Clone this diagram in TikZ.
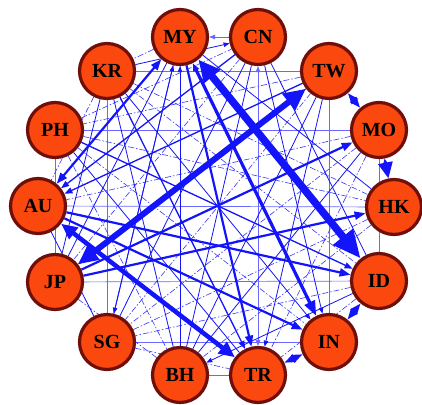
\documentclass[tikz,border=0pt]{standalone}
\usepackage{fontspec}
\setmainfont{Liberation Serif}
\usetikzlibrary{arrows.meta,backgrounds}
\definecolor{nodefill}{RGB}{250,72,14}
\definecolor{nodeborder}{RGB}{112,14,10}
\definecolor{lblue}{RGB}{105,105,255}
\definecolor{eblue}{RGB}{20,20,250}
\tikzset{
  cty/.style={circle, draw=nodeborder, fill=nodefill, line width=3.2pt, minimum size=55pt, inner sep=0pt,
    font=\fontsize{20}{20}\selectfont\bfseries},
  lite/.style={draw=lblue, line width=0.7pt},
  dd/.style={draw=eblue!85, line width=0.6pt, dash pattern=on 6pt off 2pt on 1.5pt off 2pt},
  thn/.style={draw=eblue, line width=0.8pt},
  ta/.style={thn, -{Triangle[length=6pt,width=4.5pt]}},
  mone/.style={draw=eblue, line width=1.3pt, -{Triangle[length=8pt,width=6pt]}},
  mtwo/.style={draw=eblue, line width=2.2pt, -{Triangle[length=11pt,width=8pt]}},
  mtwob/.style={draw=eblue, line width=2.2pt, {Triangle[length=11pt,width=8pt]}-{Triangle[length=11pt,width=8pt]}},
  hthree/.style={draw=eblue, line width=3.2pt, {Triangle[length=8pt,width=6pt]}-{Triangle[length=15pt,width=11pt]}},
  hfour/.style={draw=eblue, line width=4.5pt, {Triangle[length=16pt,width=14pt]}-{Triangle[length=16pt,width=14pt]}},
  hsix/.style={draw=eblue, line width=6pt, {Triangle[length=20pt,width=18pt]}-{Triangle[length=22pt,width=20pt]}},
  hseven/.style={draw=eblue, line width=7.5pt, {Triangle[length=22pt,width=20pt]}-{Triangle[length=28pt,width=24pt]}},
}
\begin{document}
\begin{tikzpicture}[x=1pt,y=-1pt]
\useasboundingbox (0,0) rectangle (422,404);
\node[cty] (MY) at (180,37) {MY};
\node[cty] (CN) at (258,37) {CN};
\node[cty] (TW) at (329,71) {TW};
\node[cty] (MO) at (379,130) {MO};
\node[cty] (HK) at (394,207) {HK};
\node[cty] (ID) at (379,281) {ID};
\node[cty] (IN) at (329,342) {IN};
\node[cty] (TR) at (258,375) {TR};
\node[cty] (BH) at (180,375) {BH};
\node[cty] (SG) at (107,342) {SG};
\node[cty] (JP) at (55,282) {JP};
\node[cty] (AU) at (38,206) {AU};
\node[cty] (PH) at (55,130) {PH};
\node[cty] (KR) at (107,71) {KR};
\begin{scope}[on background layer]
\fill[white] (0,0) rectangle (422,404);
% light horizontal / vertical lattice
\draw[lite] (MY) -- (BH);
\draw[lite] (KR) -- (SG);
\draw[lite] (PH) -- (JP);
\draw[lite] (TW) -- (IN);
\draw[lite] (MO) -- (ID);
\draw[lite] (KR) -- (TW);
\draw[lite] (PH) -- (MO);
\draw[lite] (AU) -- (HK);
\draw[lite] (JP) -- (ID);
\draw[lite] (SG) -- (IN);
\draw[lite] (BH) -- (TR);
\draw[lite, -{Triangle[length=6pt,width=4.5pt]}] (CN) -- (MY);
\draw[lite, {Triangle[length=6pt,width=4.5pt]}-{Triangle[length=6pt,width=4.5pt]}] (CN) -- (TR);
% thin dashed lines
\draw[dd] (KR) -- (ID);
\draw[dd] (KR) -- (HK);
\draw[dd] (PH) -- (IN);
\draw[dd] (PH) -- (HK);
\draw[dd] (PH) -- (CN);
\draw[dd] (CN) -- (JP);
\draw[dd] (TW) -- (SG);
\draw[dd] (TW) -- (PH);
\draw[dd] (MO) -- (SG);
\draw[dd] (MO) -- (AU);
\draw[dd] (MO) -- (TR);
\draw[dd] (HK) -- (SG);
\draw[dd] (HK) -- (BH);
\draw[dd] (ID) -- (SG);
\draw[dd] (BH) -- (JP);
\draw[dd] (MY) -- (KR);
\draw[dd] (KR) -- (AU);
\draw[dd] (ID) -- (TR);
\draw[dd] (SG) -- (TR);
\draw[dd] (PH) -- (BH);
% thin solid lines
\draw[ta] (KR) -- (IN);
\draw[thn] (KR) -- (BH);
\draw[thn] (PH) -- (TR);
\draw[thn] (CN) -- (SG);
\draw[thn] (CN) -- (BH);
\draw[ta] (CN) -- (IN);
\draw[thn] (CN) -- (ID);
\draw[thn] (TW) -- (BH);
\draw[thn] (MO) -- (BH);
\draw[ta] (ID) -- (BH);
\draw[thn] (SG) -- (AU);
\draw[thn] (KR) -- (JP);
\draw[ta] (MY) -- (SG);
\draw[thn] (MY) -- (JP);
\draw[ta] (TW) -- (TR);
\draw[thn] (MY) -- (HK);
\draw[ta] (SG) -- (MY);
\draw[ta] (BH) -- (MY);
\draw[ta] (KR) -- (CN);
\draw[ta] (TW) -- (JP);
% medium edges
\draw[mone] (KR) -- (TR);
\draw[mone] (PH) -- (ID);
\draw[mone] (CN) -- (AU);
\draw[mone] (TW) -- (AU);
\draw[mtwob] (AU) -- (MY);
\draw[mtwo] (JP) -- (MO);
\draw[mtwo] (JP) -- (HK);
\draw[mtwo] (AU) -- (ID);
\draw[mtwo] (AU) -- (IN);
\draw[mtwo] (MY) -- (TR);
\draw[mtwob] (TW) -- (MO);
\draw[mtwob] (ID) -- (IN);
\draw[mtwob] (IN) -- (TR);
% heavy edges
\draw[hthree] (MY) -- (IN);
\draw[draw=eblue, line width=3.5pt, {Triangle[length=8pt,width=7pt]}-{Triangle[length=16pt,width=14pt]}] (MO) -- (HK);
\draw[hfour] (AU) -- (TR);
\draw[hsix] (JP) -- (TW);
\draw[hseven] (MY) -- (ID);
\end{scope}
\end{tikzpicture}
\end{document}
